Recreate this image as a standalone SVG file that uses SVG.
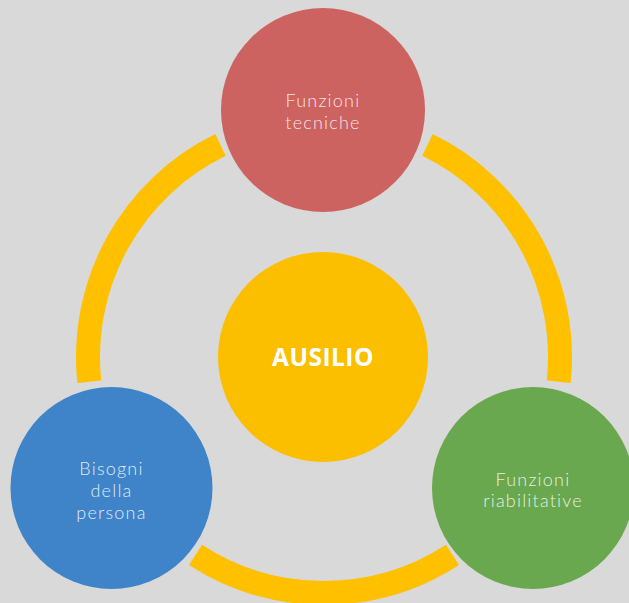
<svg xmlns="http://www.w3.org/2000/svg" width="629" height="603" viewBox="0 0 629 603">
<style>
.ring{fill:none;stroke:#FFC000;stroke-width:24;stroke-linecap:butt}
.lbl{font-family:Lato,"Open Sans","Liberation Sans",sans-serif;font-weight:300;font-size:18px;letter-spacing:1.2px;fill:#ffffff;fill-opacity:0.85;text-anchor:middle}
.main{font-family:"Open Sans","Liberation Sans",sans-serif;font-weight:700;font-size:24.5px;letter-spacing:0.5px;fill:#ffffff;text-anchor:middle}
</style>
<rect width="629" height="603" fill="#D9D9D9"/>
<g id="connectors">
<path class="ring" d="M220.5,144.9 A236,236 0 0 0 89.3,381.7"/>
<path class="ring" d="M427.5,144.9 A236,236 0 0 1 558.7,381.7"/>
<path class="ring" d="M452.5,554.9 A236,236 0 0 1 195.5,554.9"/>
</g>
<g id="ausilio">
<circle cx="323" cy="357" r="105" fill="#FBBF00"/>
<text class="main" x="323" y="366">AUSILIO</text>
</g>
<g id="funzioni-tecniche">
<circle cx="323" cy="110" r="102" fill="#CD6361"/>
<text class="lbl" x="323" y="107">Funzioni</text>
<text class="lbl" x="323" y="129">tecniche</text>
</g>
<g id="bisogni">
<circle cx="111.5" cy="488" r="101" fill="#3F84C8"/>
<text class="lbl" x="111.5" y="475">Bisogni</text>
<text class="lbl" x="111.5" y="497">della</text>
<text class="lbl" x="111.5" y="519">persona</text>
</g>
<g id="funzioni-riabilitative">
<circle cx="533" cy="488" r="101" fill="#6AA84F"/>
<text class="lbl" x="533" y="486">Funzioni</text>
<text class="lbl" x="533" y="507">riabilitative</text>
</g>
</svg>
